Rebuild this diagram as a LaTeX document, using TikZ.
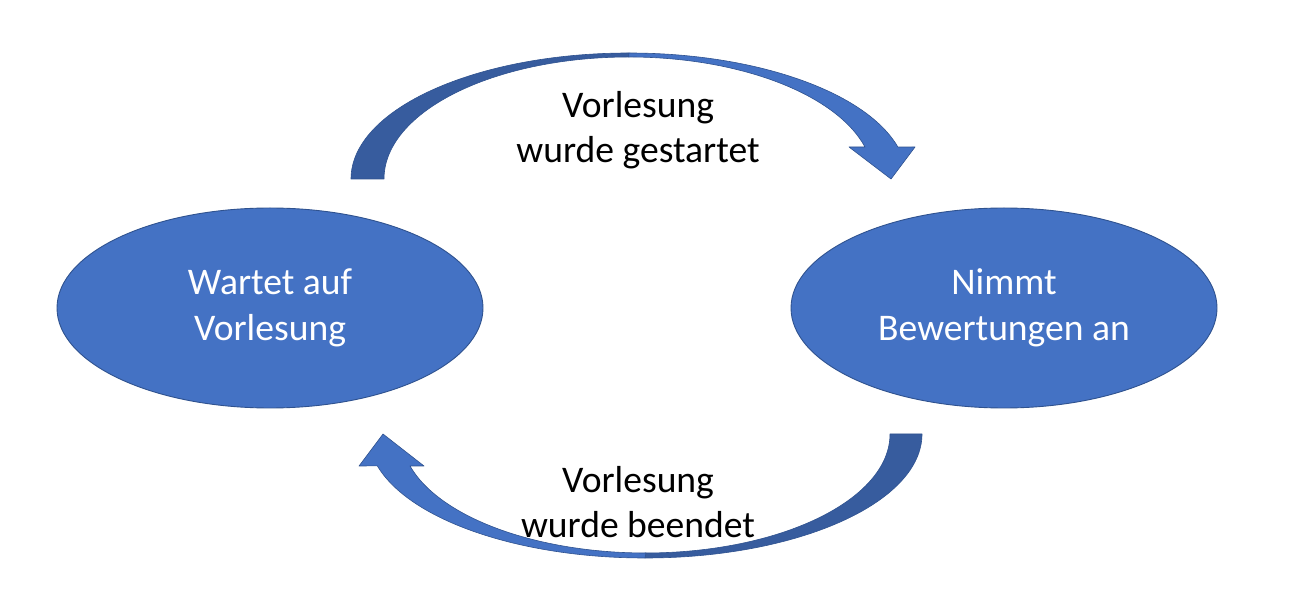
\documentclass[tikz,border=0pt]{standalone}
\usepackage{fontspec}
\setmainfont{Carlito}
\usetikzlibrary{shapes.geometric}
\definecolor{stateblue}{HTML}{4472C4}
\definecolor{stateedge}{HTML}{2F528F}
\definecolor{arrowdark}{HTML}{375C9E}
\begin{document}
\begin{tikzpicture}[x=1pt,y=1pt,
  state/.style={ellipse, draw=stateedge, line width=0.9pt, fill=stateblue,
    minimum width=426pt, minimum height=200pt, inner sep=0pt,
    text=white, align=center, font=\fontsize{37.6}{45.5}\selectfont},
  lbl/.style={text=black, align=center, inner sep=0pt, font=\fontsize{37.6}{45.5}\selectfont},
  front/.style={fill=stateblue, draw=stateedge, line width=0.6pt, line join=round},
  back/.style={fill=arrowdark, draw=stateedge, line width=0.6pt, line join=round}]
\useasboundingbox (0,0) rectangle (1297,589);

\node[state] (wait) at (270,281) {Wartet auf\\Vorlesung};
\node[state] (take) at (1004,281) {Nimmt\\Bewertungen an};

% top curved arrow (wait -> take)
\coordinate (t1) at (351,410);
\coordinate (t2) at (384,410);
\coordinate (ttopo) at (629,536);
\coordinate (ttopi) at (629,532);
\coordinate (thl) at (849,442);
\coordinate (thr) at (915,442);
\coordinate (ttip) at (891,410);
\coordinate (tsi) at (865,442);
\path[back] (t1) arc[start angle=180, end angle=90, x radius=278pt, y radius=126pt]
  -- (ttopi) arc[start angle=90, end angle=180, x radius=245pt, y radius=122pt] -- cycle;
\path[front] (ttopo) arc[start angle=90, end angle=14.7, x radius=278pt, y radius=126pt]
  -- (thr) -- (ttip) -- (thl) -- (tsi)
  arc[start angle=15.2, end angle=90, x radius=245pt, y radius=122pt] -- cycle;

% bottom curved arrow (take -> wait)
\coordinate (b1) at (922,155);
\coordinate (b2) at (890,155);
\coordinate (bboto) at (645,31);
\coordinate (bboti) at (645,36);
\coordinate (bhl) at (359,123);
\coordinate (bhr) at (424,123);
\coordinate (btip) at (383,155);
\coordinate (bsi) at (410,123);
\path[back] (b1) arc[start angle=0, end angle=-90, x radius=277pt, y radius=124pt]
  -- (bboti) arc[start angle=-90, end angle=0, x radius=245pt, y radius=119pt] -- cycle;
\path[front] (bboto) arc[start angle=270, end angle=194.9, x radius=277pt, y radius=124pt]
  -- (bhl) -- (btip) -- (bhr) -- (bsi)
  arc[start angle=195.6, end angle=270, x radius=245pt, y radius=119pt] -- cycle;

\node[lbl] (start) at (638,459) {Vorlesung\\wurde gestartet};
\node[lbl] (end) at (638,87) {Vorlesung\\wurde beendet};
\end{tikzpicture}
\end{document}
